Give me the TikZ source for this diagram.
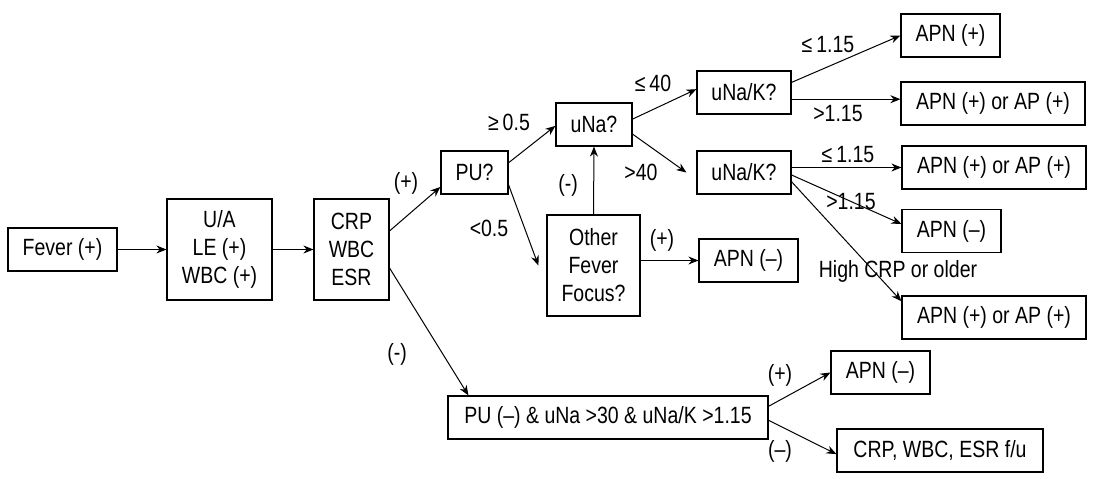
\documentclass[tikz,border=0pt]{standalone}
\usepackage{fontspec}
\setmainfont{Liberation Sans}[FakeStretch=0.83]
\usetikzlibrary{arrows.meta}

\tikzset{
  kasten/.style={draw, line width=0.6pt, align=center, inner sep=0pt,
    minimum height=21.5pt, font=\fontsize{11.75}{14}\selectfont},
  hoch/.style={minimum height=50.5pt},
  pfeil/.style={-{Stealth[length=5pt,width=4pt]}, line width=0.5pt},
  marke/.style={inner sep=0pt, font=\fontsize{11.75}{14}\selectfont}
}

\begin{document}
\begin{tikzpicture}[x=0.5pt,y=-0.5pt]
  \useasboundingbox (0,0) rectangle (1099,478);

  % Kaesten
  \node[kasten, minimum width=54.5pt] (fever) at (62.5,249.5) {Fever (+)};
  \node[kasten, hoch, minimum width=52.5pt] (ua) at (219.5,249.5) {U/A\\LE (+)\\WBC (+)};
  \node[kasten, hoch, minimum width=37.5pt] (crp) at (351.5,249.5) {CRP\\WBC\\ESR};
  \node[kasten, minimum width=33.5pt] (pu) at (474.5,172.5) {PU?};
  \node[kasten, minimum width=38pt] (una) at (594,124.5) {uNa?};
  \node[kasten, hoch, minimum width=46.5pt] (other) at (593.5,265.5) {Other\\Fever\\Focus?};
  \node[kasten, minimum width=49.5pt] (apnm) at (748.5,260.5) {APN (--)};
  \node[kasten, minimum width=47pt] (unak1) at (744,92.5) {uNa/K?};
  \node[kasten, minimum width=47pt] (unak2) at (744,172.5) {uNa/K?};
  \node[kasten, minimum width=49.5pt] (apnp) at (950.5,35.5) {APN (+)};
  \node[kasten, minimum width=92pt] (or1) at (993,103.5) {APN (+) or AP (+)};
  \node[kasten, minimum width=92pt] (or2) at (994,167.5) {APN (+) or AP (+)};
  \node[kasten, minimum width=49.5pt] (apnm2) at (951.5,231) {APN (--)};
  \node[kasten, minimum width=92pt] (or3) at (994,317.5) {APN (+) or AP (+)};
  \node[kasten, minimum width=160pt] (pun) at (608,417.5) {PU (--) \& uNa >30 \& uNa/K >1.15};
  \node[kasten, minimum width=49.5pt] (apnm3) at (880.5,372.5) {APN (--)};
  \node[kasten, minimum width=103pt] (fu) at (940,450.5) {CRP, WBC, ESR f/u};

  % Pfeile
  \draw[pfeil] (fever.east) -- (ua.west);
  \draw[pfeil] (ua.east) -- (crp.west);
  \draw[pfeil] (crp.26) -- (pu.203);
  \draw[pfeil] (crp.-26) -- (pun.171);
  \draw[pfeil] (pu.16) -- (una.182);
  \draw[pfeil] (pu.-20) -- ([xshift=-4pt]other.west);
  \draw[pfeil] (other.north) -- (una.south);
  \draw[pfeil] (apnm.west -| other.east) -- (apnm.west);
  \draw[pfeil] (una.8) -- (unak1.176);
  \draw[pfeil] (una.-14) -- ([xshift=-5pt]unak2.west);
  \draw[pfeil] (unak1.12) -- (apnp.west);
  \draw[pfeil] (unak1.-8) -- (unak1.-8 -| or1.west);
  \draw[pfeil] (unak2.6) -- (unak2.6 -| or2.west);
  \draw[pfeil] (unak2.-3) -- (apnm2.172);
  \draw[pfeil] (unak2.-11) -- (or3.170);
  \draw[pfeil] (pun.4.5) -- (apnm3.west);
  \draw[pfeil] (pun.-1) -- (fu.182.5);

  % Beschriftungen
  \node[marke] (m1) at (406,183) {(+)};
  \node[marke] (m2) at (397,354) {(-)};
  \node[marke] (m3) at (509,122) {≥\,0.5};
  \node[marke] (m4) at (489,228) {<0.5};
  \node[marke] (m5) at (568,185) {(-)};
  \node[marke] (m6) at (662,240) {(+)};
  \node[marke] (m7) at (653,83) {≤\,40};
  \node[marke] (m8) at (641,172) {>40};
  \node[marke] (m9) at (828,45) {≤\,1.15};
  \node[marke] (m10) at (838,114) {>1.15};
  \node[marke] (m11) at (848,155) {≤\,1.15};
  \node[marke] (m12) at (851,202) {>1.15};
  \node[marke] (m13) at (898,271) {High CRP or older};
  \node[marke] (m14) at (780,375) {(+)};
  \node[marke] (m15) at (780,451) {(--)};

\end{tikzpicture}
\end{document}
